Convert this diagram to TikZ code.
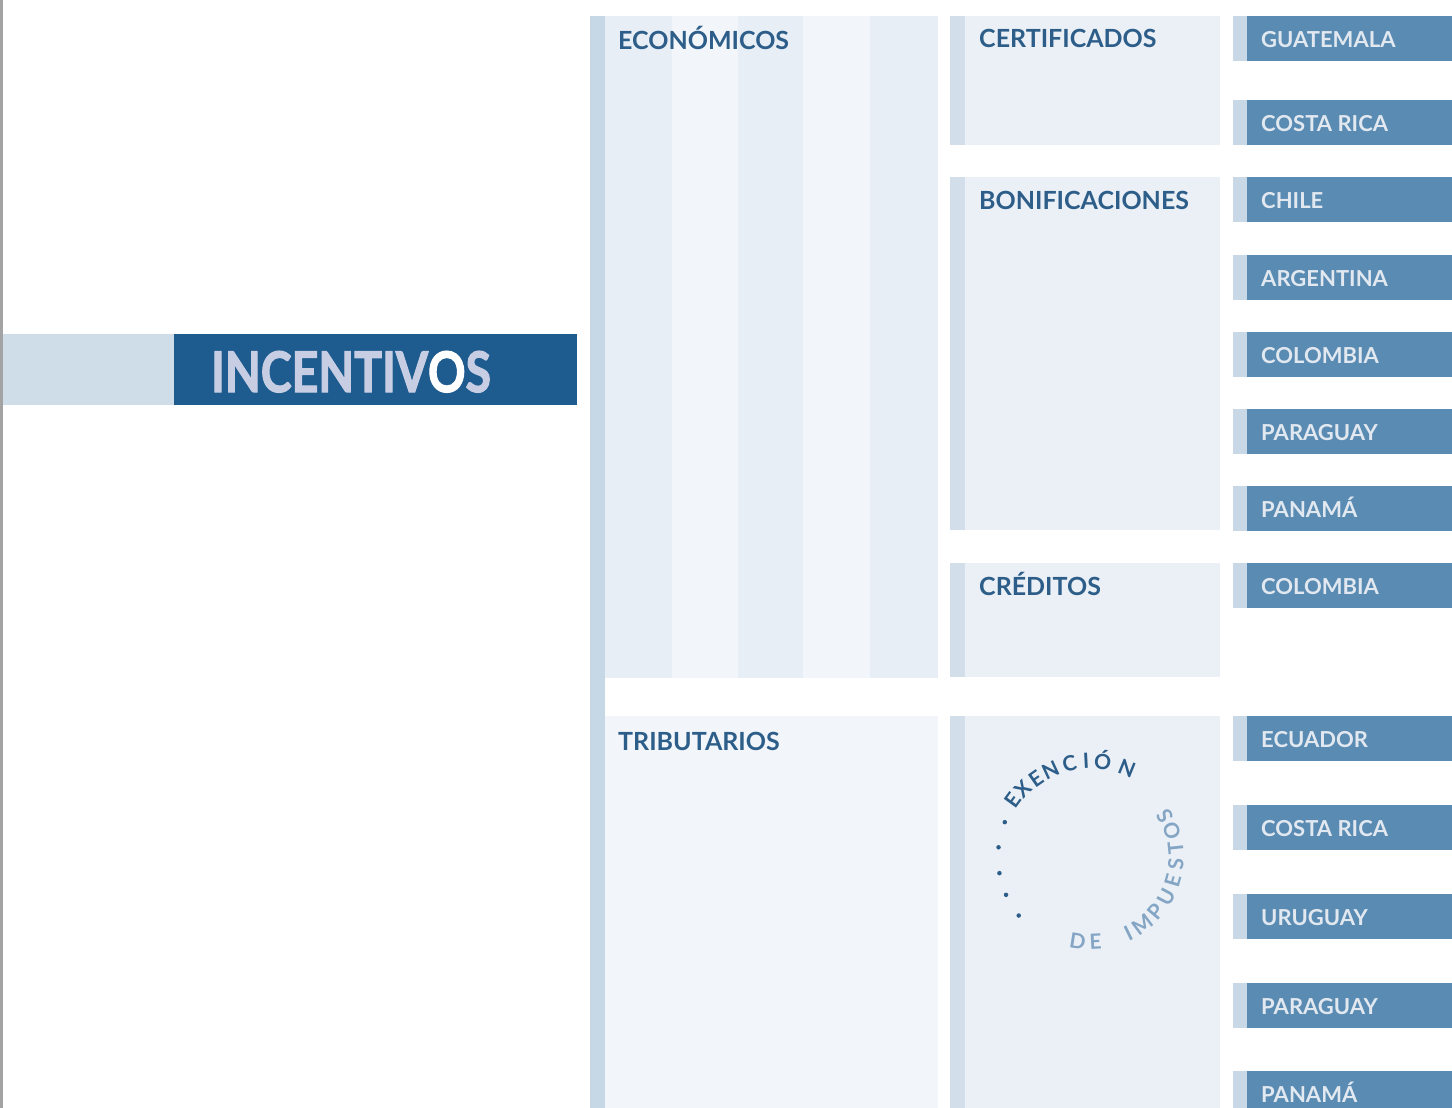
\documentclass[tikz,border=0pt]{standalone}
\usepackage{fontspec}
\setmainfont{Lato}
\newfontfamily\incfont{Lato}[FakeBold=2.2]
\definecolor{darkblue}{HTML}{1E5B8F}
\definecolor{incbar}{HTML}{CFDDE8}
\definecolor{inctext}{HTML}{C7CEE3}
\definecolor{vbar}{HTML}{C6D7E6}
\definecolor{stripeA}{HTML}{E8EEF5}
\definecolor{stripeB}{HTML}{F2F6FA}
\definecolor{boxfill}{HTML}{EBF0F6}
\definecolor{boxstrip}{HTML}{D2DEEA}
\definecolor{countryfill}{HTML}{5A8BB3}
\definecolor{countrystrip}{HTML}{C9D8E6}
\definecolor{countrytext}{HTML}{E1E8F0}
\definecolor{labelblue}{HTML}{2D5D89}
\definecolor{circlelight}{HTML}{84A6C4}
\definecolor{leftline}{HTML}{A3A3A3}
\begin{document}
\begin{tikzpicture}[x=1pt,y=-1pt,
  lbl/.style={anchor=base west, inner sep=0pt, font=\fontsize{25}{30}\selectfont\bfseries, text=labelblue},
  ctry/.style={anchor=base west, inner sep=0pt, font=\fontsize{22}{26}\selectfont\bfseries, text=countrytext},
  arcl/.style={inner sep=0pt, text height=0.72em, text depth=0pt, font=\fontsize{21}{24}\selectfont\bfseries},
  dotmark/.style={circle, fill=labelblue, inner sep=0pt, minimum size=4.5pt}
]
\useasboundingbox (0,0) rectangle (1452,1108);
\clip (0,0) rectangle (1452,1108);
\fill[white] (0,0) rectangle (1452,1108);
\fill[leftline] (0,0) rectangle (2.5,1108);

% INCENTIVOS
\fill[incbar] (2.5,334) rectangle (174,405);
\fill[darkblue] (174,334) rectangle (577,405);
\node[anchor=base west, inner sep=0pt, font=\fontsize{56}{60}\selectfont\incfont\bfseries, text=inctext] (inc) at (211,392) {\scalebox{0.83}[1]{INCENTIV{\color{white}O}S}};

% column 1
\fill[vbar] (590,16) rectangle (605,1108);
\fill[stripeA] (605,16) rectangle (672,678);
\fill[stripeB] (672,16) rectangle (738,678);
\fill[stripeA] (738,16) rectangle (803,678);
\fill[stripeB] (803,16) rectangle (870,678);
\fill[stripeA] (870,16) rectangle (938,678);
\fill[stripeB] (605,716) rectangle (938,1108);
\node[lbl] (eco) at (618,50) {ECONÓMICOS};
\node[lbl] (tri) at (618,750) {TRIBUTARIOS};

% column 2
\foreach \ya/\yb in {16/145, 177/530, 563/677, 716/1108}{
  \fill[boxstrip] (950,\ya) rectangle (965,\yb);
  \fill[boxfill] (965,\ya) rectangle (1220,\yb);
}
\node[lbl] (cert) at (979,48) {CERTIFICADOS};
\node[lbl] (boni) at (979,209) {BONIFICACIONES};
\node[lbl] (cred) at (979,595) {CRÉDITOS};

% circular text
\foreach \l/\a [count=\i] in {E/144, X/135, E/125, N/115, C/103, I/93, Ó/83, N/68}
  \node[arcl, text=labelblue, rotate=\a-90] (ex\i) at ({1091+92*cos(\a)},{857-92*sin(\a)}) {\l};
\foreach \l/\a [count=\i] in {D/-99, E/-87, I/-64, M/-53, P/-40, U/-28, E/-16, S/-5, T/6, O/18, S/29}
  \node[arcl, text=circlelight, rotate=\a+90] (im\i) at ({1091+89*cos(\a)},{857-89*sin(\a)}) {\l};
\foreach \a [count=\i] in {158,174,190,204,219}
  \node[dotmark] (dot\i) at ({1091+93*cos(\a)},{857-93*sin(\a)}) {};

% column 3
\foreach \y/\t [count=\i] in {16/GUATEMALA, 100/COSTA RICA, 177/CHILE, 255/ARGENTINA, 332/COLOMBIA, 409/PARAGUAY, 486/PANAMÁ, 563/COLOMBIA, 716/ECUADOR, 805/COSTA RICA, 894/URUGUAY, 983/PARAGUAY, 1071/PANAMÁ}{
  \fill[countrystrip] (1233,\y) rectangle (1247,\y+45);
  \fill[countryfill] (1247,\y) rectangle (1452,\y+45);
  \node[ctry] (country\i) at (1261,\y+31.5) {\t};
}
\end{tikzpicture}
\end{document}
